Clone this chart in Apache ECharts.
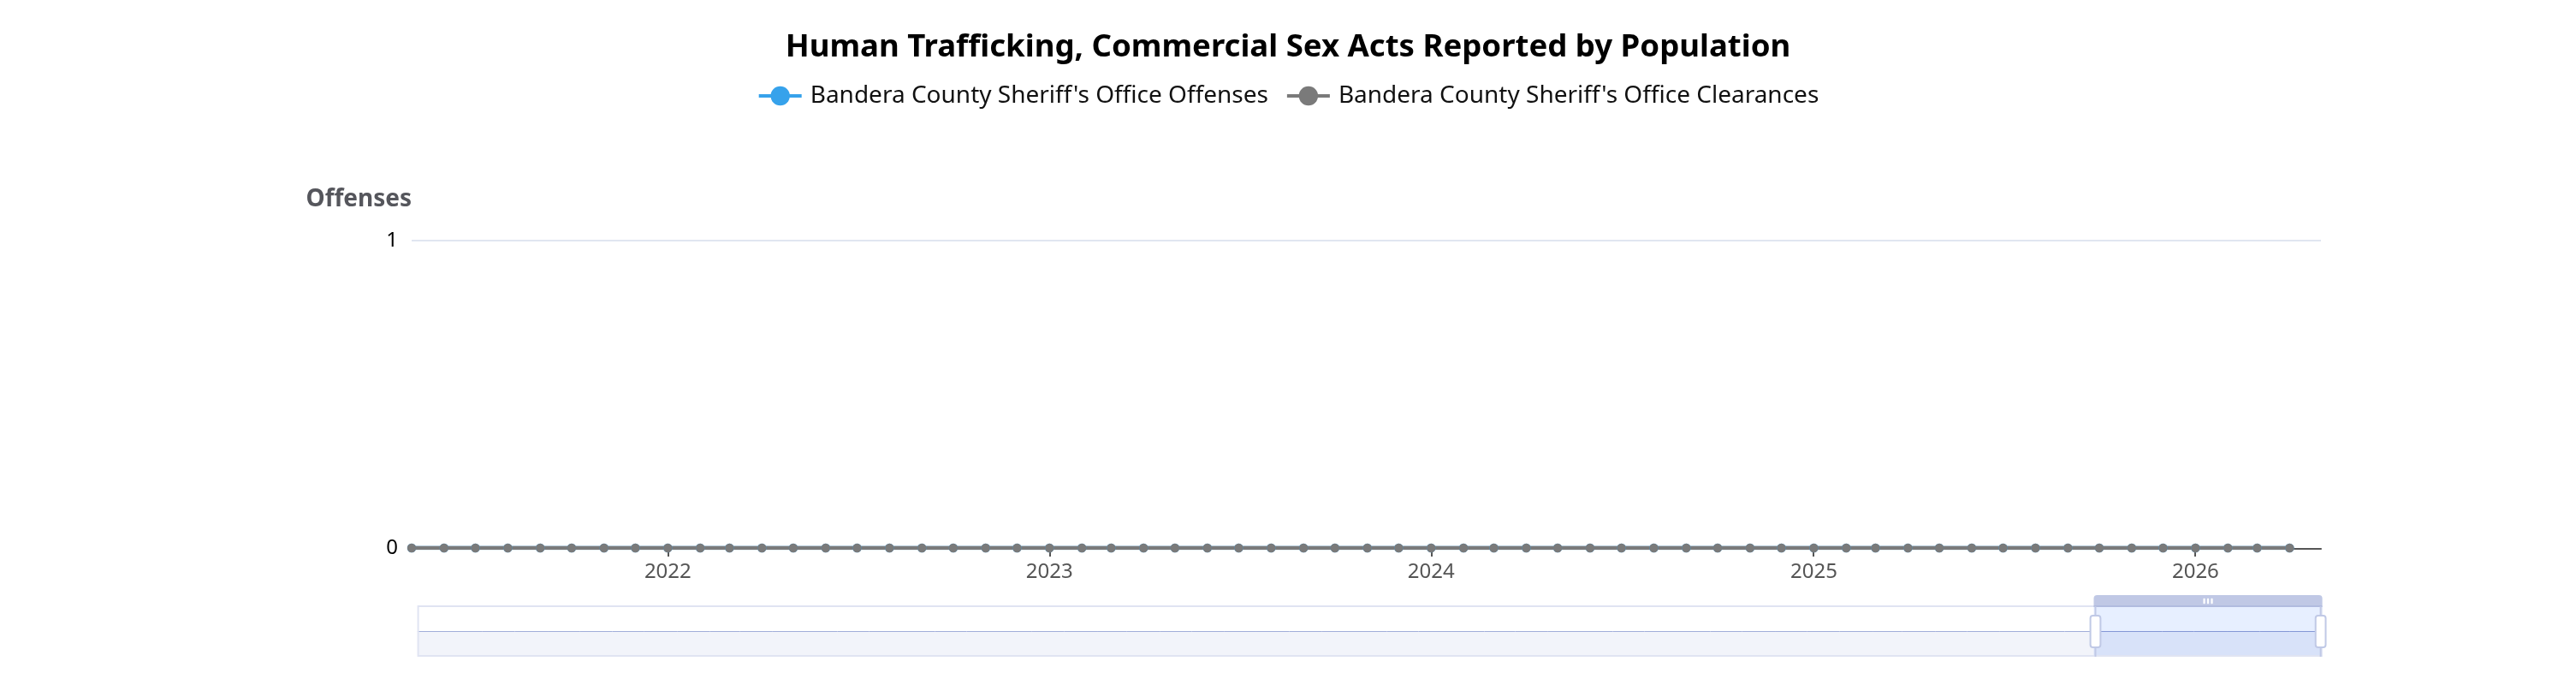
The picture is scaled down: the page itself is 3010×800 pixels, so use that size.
<!DOCTYPE html>
<html>
<head>
<meta charset="utf-8">
<script src="https://cdn.jsdelivr.net/npm/echarts@6/dist/echarts.min.js"></script>
<style>
  html, body { margin: 0; padding: 0; background: #fff; overflow: hidden; }
  #wrap { width: 3010px; height: 800px; position: relative; overflow: hidden; }
  #chart { width: 1505px; height: 400px; transform: scale(2); transform-origin: 0 0; }
</style>
</head>
<body>
<div id="wrap"><div id="chart"></div></div>
<script>
const chartTitle = "Human Trafficking, Commercial Sex Acts Reported by Population";
const yAxisName = "Offenses";
const seriesNames = ["Bandera County Sheriff's Office Offenses", "Bandera County Sheriff's Office Clearances"];
const months = [
  "2021-05-01","2021-06-01","2021-07-01","2021-08-01","2021-09-01","2021-10-01","2021-11-01","2021-12-01",
  "2022-01-01","2022-02-01","2022-03-01","2022-04-01","2022-05-01","2022-06-01","2022-07-01","2022-08-01","2022-09-01","2022-10-01","2022-11-01","2022-12-01",
  "2023-01-01","2023-02-01","2023-03-01","2023-04-01","2023-05-01","2023-06-01","2023-07-01","2023-08-01","2023-09-01","2023-10-01","2023-11-01","2023-12-01",
  "2024-01-01","2024-02-01","2024-03-01","2024-04-01","2024-05-01","2024-06-01","2024-07-01","2024-08-01","2024-09-01","2024-10-01","2024-11-01","2024-12-01",
  "2025-01-01","2025-02-01","2025-03-01","2025-04-01","2025-05-01","2025-06-01","2025-07-01","2025-08-01","2025-09-01","2025-10-01","2025-11-01","2025-12-01",
  "2026-01-01","2026-02-01","2026-03-01","2026-04-01"
];
const offenses = [
  0,0,0,0,0,0,0,0,
  0,0,0,0,0,0,0,0,0,0,0,0,
  0,0,0,0,0,0,0,0,0,0,0,0,
  0,0,0,0,0,0,0,0,0,0,0,0,
  0,0,0,0,0,0,0,0,0,0,0,0,
  0,0,0,0
];
const clearances = [
  0,0,0,0,0,0,0,0,
  0,0,0,0,0,0,0,0,0,0,0,0,
  0,0,0,0,0,0,0,0,0,0,0,0,
  0,0,0,0,0,0,0,0,0,0,0,0,
  0,0,0,0,0,0,0,0,0,0,0,0,
  0,0,0,0
];
const xMin = "2021-05-01";
const xMax = "2026-05-01";
const yTicks = [0, 1];

const FONT = "'Segoe UI', 'Noto Sans', 'Open Sans', sans-serif";
const chart = echarts.init(document.getElementById('chart'), null, { devicePixelRatio: 2, renderer: 'canvas' });

const pair = (vals) => months.map((m, i) => [m, vals[i]]);

chart.setOption({
  animation: false,
  textStyle: { fontFamily: FONT },
  color: ['#36A2EB', '#7a7a7a'],
  title: {
    text: chartTitle,
    left: 'center',
    top: 14,
    textStyle: { fontSize: 18.3, fontWeight: 'bold', color: '#000', fontFamily: FONT }
  },
  legend: {
    top: 44,
    left: 'center',
    data: seriesNames,
    itemWidth: 25,
    itemHeight: 14,
    itemGap: 10,
    textStyle: { fontSize: 14, color: '#111', fontFamily: FONT }
  },
  grid: { left: 240.5, right: 149, top: 140.5, bottom: 80, containLabel: false },
  xAxis: [{
    type: 'time',
    min: xMin,
    max: xMax,
    minInterval: 365 * 24 * 3600 * 1000,
    axisLine: { lineStyle: { color: '#555', width: 1 } },
    axisTick: { show: true, length: 5, lineStyle: { color: '#555' } },
    axisLabel: { formatter: '{yyyy}', color: '#555', fontSize: 12, margin: 8, fontFamily: FONT },
    splitLine: { show: false }
  }, {
    type: 'time',
    show: false,
    min: xMin,
    max: xMax
  }],
  yAxis: {
    type: 'value',
    min: yTicks[0],
    max: yTicks[yTicks.length - 1],
    interval: 1,
    name: yAxisName,
    nameLocation: 'end',
    nameGap: 17,
    nameTextStyle: { fontSize: 14, fontWeight: 'bold', color: '#55565c', align: 'right', fontFamily: FONT },
    axisLine: { show: false },
    axisTick: { show: false },
    axisLabel: { color: '#000', fontSize: 12, margin: 8, fontFamily: FONT },
    splitLine: { lineStyle: { color: '#E0E6F1' } }
  },
  dataZoom: [{
    type: 'slider',
    xAxisIndex: 1,
    start: 88,
    end: 100,
    left: 241,
    right: 151,
    top: 347.5,
    height: 29.5,
    showDetail: false
  }],
  series: [{
    name: seriesNames[0],
    type: 'line',
    data: pair(offenses),
    symbol: 'circle',
    symbolSize: 5.2,
    lineStyle: { width: 2.3 },
    itemStyle: { color: '#36A2EB' }
  }, {
    name: seriesNames[1],
    type: 'line',
    data: pair(clearances),
    symbol: 'circle',
    symbolSize: 5.2,
    lineStyle: { width: 2.3 },
    itemStyle: { color: '#7a7a7a' }
  }, {
    name: 'shadow',
    type: 'line',
    xAxisIndex: 1,
    data: pair(clearances),
    symbol: 'none',
    silent: true,
    lineStyle: { opacity: 0 },
    itemStyle: { opacity: 0 },
    z: -1
  }]
});
</script>
</body>
</html>
